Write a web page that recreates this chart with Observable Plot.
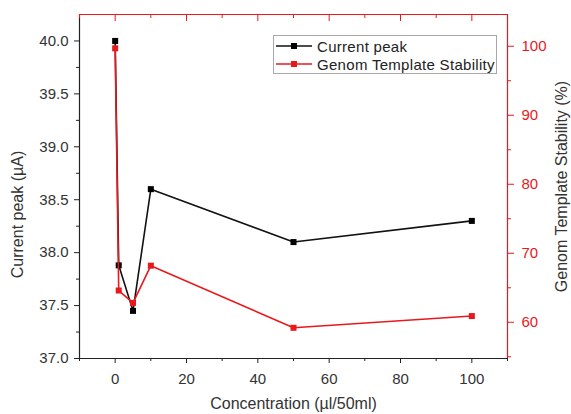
<!DOCTYPE html>
<html>
<head>
<meta charset="utf-8">
<script src="https://cdn.jsdelivr.net/npm/d3@7"></script>
<script src="https://cdn.jsdelivr.net/npm/@observablehq/plot@0.6"></script>
<style>
  html, body { margin: 0; padding: 0; background: #fff; }
  #wrap { position: relative; width: 571px; height: 414px; font-family: "Liberation Sans", Arial, sans-serif; }
  #legend { position: absolute; left: 273px; top: 35px; width: 222px; height: 37px; border: 1px solid #a8a8a8; background: #fff; color: #222; font-size: 15px; }
  #legend .row { position: absolute; left: 0; height: 18px; display: flex; align-items: center; }
  #legend svg { display: block; }
  #legend span { margin-left: 3px; white-space: nowrap; letter-spacing: 0.3px; }
</style>
</head>
<body>
<div id="wrap"></div>
<script>
// ---- data ----
const concentration = [0, 1, 5, 10, 50, 100];
const currentPeak   = [40.0, 37.88, 37.45, 38.6, 38.1, 38.3];
const stability     = [99.7, 64.6, 62.8, 68.2, 59.2, 60.9];

const leftTicks  = [37.0, 37.5, 38.0, 38.5, 39.0, 39.5, 40.0];
const leftMinor  = [37.25, 37.75, 38.25, 38.75, 39.25, 39.75];
const rightTicks = [60, 70, 80, 90, 100];
const rightMinor = [55, 65, 75, 85, 95];
const xTicks     = [0, 20, 40, 60, 80, 100];
const xMinor     = [-10, 10, 30, 50, 70, 90, 110];

const seriesNames = ["Current peak", "Genom Template Stability"];
const seriesColors = ["#111111", "#e8191c"];

const xDomain = [-10, 110];
const leftDomain = [37, 40.25];
const rightDomain = [54.75, 104.6];

// map right-axis values onto the left scale
const toLeft = r => leftDomain[0] + (r - rightDomain[0]) * (leftDomain[1] - leftDomain[0]) / (rightDomain[1] - rightDomain[0]);
const fromLeft = l => rightDomain[0] + (l - leftDomain[0]) * (rightDomain[1] - rightDomain[0]) / (leftDomain[1] - leftDomain[0]);

const peakData = concentration.map((c, i) => ({c, v: currentPeak[i]}));
const stabData = concentration.map((c, i) => ({c, v: toLeft(stability[i])}));

const red = seriesColors[1];
const dark = "#222";

const chart = Plot.plot({
  width: 571,
  height: 414,
  marginLeft: 79,
  marginRight: 64,
  marginTop: 14,
  marginBottom: 56,
  style: { fontFamily: "'Liberation Sans', Arial, sans-serif", fontSize: "15px", color: "#333", background: "#fff" },
  x: { domain: xDomain },
  y: { domain: leftDomain },
  marks: [
    // frame sides
    Plot.ruleY([leftDomain[0]], { stroke: dark, strokeWidth: 1.2 }),
    Plot.ruleX([xDomain[0]], { stroke: dark, strokeWidth: 1.2 }),
    Plot.ruleY([leftDomain[1]], { stroke: red, strokeWidth: 1.2 }),
    Plot.ruleX([xDomain[1]], { stroke: red, strokeWidth: 1.2 }),
    // bottom axis
    Plot.axisX(xTicks, { anchor: "bottom", tickSize: 5, tickPadding: 10, label: null, stroke: dark, fill: "#333", tickFormat: d => d }),
    Plot.axisX(xMinor, { anchor: "bottom", tickSize: 3, label: null, stroke: dark, tickFormat: () => "" }),
    // top axis (inward red ticks)
    Plot.axisX(xTicks, { anchor: "top", tickSize: -6, label: null, stroke: red, tickFormat: () => "" }),
    Plot.axisX(xMinor, { anchor: "top", tickSize: -3, label: null, stroke: red, tickFormat: () => "" }),
    // left axis
    Plot.axisY(leftTicks, { anchor: "left", tickSize: 5, tickPadding: 6, label: null, stroke: dark, fill: "#333", tickFormat: d => d.toFixed(1), letterSpacing: 0.6 }),
    Plot.axisY(leftMinor, { anchor: "left", tickSize: 3, label: null, stroke: dark, tickFormat: () => "" }),
    // right axis (red)
    Plot.axisY(rightTicks.map(toLeft), { anchor: "right", tickSize: 6, tickPadding: 8, label: null, stroke: red, fill: red, tickFormat: d => Math.round(fromLeft(d)) }),
    Plot.axisY(rightMinor.map(toLeft), { anchor: "right", tickSize: 3, label: null, stroke: red, tickFormat: () => "" }),
    // axis titles
    Plot.text(["Concentration (\u00b5l/50ml)"], { frameAnchor: "bottom", textAnchor: "middle", dy: 50, fontSize: 16, fill: "#333", letterSpacing: 0.2 }),
    Plot.text(["Current peak (\u00b5A)"], { frameAnchor: "left", textAnchor: "middle", dx: -62, dy: 28, rotate: -90, fontSize: 16, fill: "#333", letterSpacing: 1.6 }),
    Plot.text(["Genom Template Stability (%)"], { frameAnchor: "right", textAnchor: "middle", dx: 54, dy: 0, rotate: -90, fontSize: 16, fill: "#333", letterSpacing: 1.2 }),
    // series
    Plot.line(peakData, { x: "c", y: "v", stroke: seriesColors[0], strokeWidth: 1.6 }),
    Plot.dot(peakData, { x: "c", y: "v", symbol: "square", fill: "#000", r: 3.4 }),
    Plot.line(stabData, { x: "c", y: "v", stroke: seriesColors[1], strokeWidth: 1.6 }),
    Plot.dot(stabData, { x: "c", y: "v", symbol: "square", fill: seriesColors[1], r: 3.4 })
  ]
});

const wrap = document.getElementById("wrap");
wrap.appendChild(chart);

// legend
const legend = document.createElement("div");
legend.id = "legend";
seriesNames.forEach((name, i) => {
  const row = document.createElement("div");
  row.className = "row";
  row.style.top = (1 + i * 18) + "px";
  const col = seriesColors[i];
  row.innerHTML = `<svg width="40" height="18"><line x1="2" x2="38" y1="9" y2="9" stroke="${col}" stroke-width="1.6"/><rect x="17" y="6" width="6" height="6" fill="${i === 0 ? '#000' : col}"/></svg><span>${name}</span>`;
  legend.appendChild(row);
});
wrap.appendChild(legend);
</script>
</body>
</html>
